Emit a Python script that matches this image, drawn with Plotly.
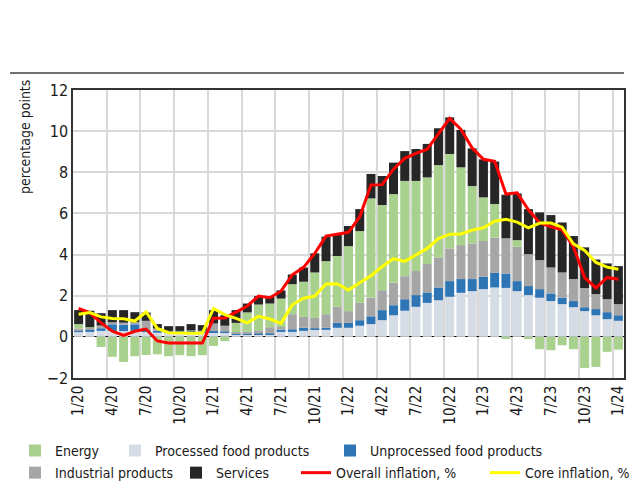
import plotly.graph_objects as go

# monthly contributions, 1/20 .. 1/24 (percentage points)
months = [f"{m}/{y}" for y in range(20, 25) for m in range(1, 13)][:49]
tick_labels = ["1/20", "4/20", "7/20", "10/20", "1/21", "4/21", "7/21", "10/21", "1/22",
               "4/22", "7/22", "10/22", "1/23", "4/23", "7/23", "10/23", "1/24"]

processed_food = [0.23, 0.24, 0.29, 0.29, 0.28, 0.29, 0.23, 0.20, 0.21, 0.21, 0.21, 0.20,
                  0.20, 0.20, 0.13, 0.13, 0.13, 0.13, 0.24, 0.24, 0.29, 0.34, 0.34, 0.44,
                  0.44, 0.54, 0.62, 0.81, 1.05, 1.27, 1.46, 1.65, 1.78, 1.95, 2.14, 2.22,
                  2.32, 2.40, 2.38, 2.22, 2.03, 1.90, 1.74, 1.59, 1.44, 1.25, 1.05, 0.86, 0.78]
unprocessed_food = [0.10, 0.13, 0.13, 0.32, 0.31, 0.32, 0.10, 0.10, 0.08, 0.08, 0.08, 0.08,
                    0.08, 0.05, 0.05, 0.03, 0.03, 0.03, 0.11, 0.13, 0.15, 0.07, 0.10, 0.24,
                    0.24, 0.27, 0.38, 0.49, 0.49, 0.56, 0.57, 0.51, 0.62, 0.76, 0.67, 0.59,
                    0.60, 0.71, 0.70, 0.49, 0.44, 0.42, 0.37, 0.32, 0.30, 0.19, 0.30, 0.34, 0.27]
industrial = [0.08, 0.08, 0.13, 0.10, 0.10, 0.11, 0.45, 0.11, 0.00, 0.00, 0.03, 0.02,
              0.37, 0.29, 0.05, 0.08, 0.16, 0.31, 0.13, 0.73, 0.53, 0.51, 0.66, 0.78,
              0.57, 0.84, 0.91, 0.97, 1.09, 1.12, 1.17, 1.38, 1.46, 1.59, 1.65, 1.73,
              1.74, 1.71, 1.71, 1.67, 1.55, 1.41, 1.26, 1.22, 1.07, 0.93, 0.73, 0.63, 0.54]
energy = [0.21, 0.02, -0.49, -0.97, -1.22, -0.94, -0.88, -0.85, -0.94, -0.89, -0.94, -0.89,
          -0.44, -0.21, 0.45, 0.95, 1.25, 1.15, 1.38, 1.46, 1.71, 2.21, 2.58, 2.47,
          3.16, 3.49, 4.82, 4.14, 4.31, 4.63, 4.38, 4.21, 4.49, 4.59, 3.78, 2.79,
          2.12, 1.64, -0.10, 0.32, -0.10, -0.60, -0.65, -0.41, -0.60, -1.51, -1.46, -0.73, -0.62]
services = [0.68, 0.80, 0.60, 0.59, 0.61, 0.48, 0.40, 0.21, 0.23, 0.23, 0.30, 0.27,
            0.65, 0.51, 0.62, 0.43, 0.41, 0.32, 0.40, 0.47, 0.69, 0.93, 1.19, 1.02,
            0.98, 1.07, 1.19, 1.41, 1.53, 1.45, 1.55, 1.63, 1.79, 1.78, 1.82, 1.83,
            1.85, 2.06, 2.12, 2.27, 2.19, 2.32, 2.55, 2.43, 2.09, 1.98, 1.68, 1.74, 1.85]
overall = [1.38, 1.17, 0.68, 0.28, 0.07, 0.27, 0.38, -0.20, -0.30, -0.30, -0.30, -0.30,
           0.90, 0.92, 1.20, 1.50, 1.98, 1.90, 2.22, 3.02, 3.38, 4.06, 4.90, 5.00,
           5.08, 5.84, 7.38, 7.40, 8.15, 8.68, 8.92, 9.12, 9.88, 10.62, 10.08, 9.18,
           8.63, 8.53, 6.94, 7.00, 6.18, 5.55, 5.35, 5.20, 4.38, 2.88, 2.38, 2.89, 2.80]
core = [1.10, 1.18, 0.97, 0.89, 0.88, 0.77, 1.21, 0.41, 0.20, 0.18, 0.18, 0.18,
        1.38, 1.08, 0.90, 0.68, 1.00, 0.87, 0.66, 1.56, 1.88, 1.98, 2.57, 2.58,
        2.28, 2.63, 2.97, 3.42, 3.80, 3.67, 4.00, 4.30, 4.78, 4.99, 5.00, 5.19,
        5.30, 5.62, 5.72, 5.58, 5.30, 5.53, 5.53, 5.33, 4.52, 4.20, 3.62, 3.39, 3.29]

FONT = "Liberation Sans Narrow, DejaVu Sans Condensed, Arial Narrow, sans-serif"
x = list(range(len(months)))

fig = go.Figure()
bars = [
    ("Processed food products", processed_food, "#d6dce5", "legend2"),
    ("Unprocessed food products", unprocessed_food, "#2e75b6", "legend3"),
    ("Industrial products", industrial, "#a6a6a6", "legend4"),
    ("Energy", energy, "#a9d18e", "legend"),
    ("Services", services, "#262626", "legend5"),
]
for name, vals, col, lg in bars:
    fig.add_trace(go.Bar(x=x, y=vals, name=name, marker_color=col, marker_line_width=0,
                         legend=lg, customdata=months,
                         hovertemplate="%{customdata}: %{y}<extra>" + name + "</extra>"))
fig.add_trace(go.Scatter(x=x, y=overall, name="Overall inflation, %", mode="lines",
                         line=dict(color="#ff0000", width=3), legend="legend6"))
fig.add_trace(go.Scatter(x=x, y=core, name="Core inflation, %", mode="lines",
                         line=dict(color="#ffff00", width=3), legend="legend7"))

# one legend per entry so the two rows line up like the original
lg_font = dict(family=FONT, size=14, color="#1a1a1a")
def _lg(px, row):
    return dict(x=(px - 73) / 551, y=-0.253 if row == 1 else -0.330, xanchor="left",
                yanchor="middle", orientation="h", font=lg_font, bgcolor="rgba(0,0,0,0)",
                borderwidth=0)

# the page body adds an 8px offset, so the figure is 8px smaller on each side
fig.update_layout(
    width=630,
    height=482,
    margin=dict(l=65, r=14, t=82, b=112, autoexpand=False),
    showlegend=True,
    barmode="relative",
    bargap=0.2,
    plot_bgcolor="white",
    paper_bgcolor="white",
    font=dict(family=FONT, size=15, color="#1a1a1a"),
    legend=_lg(15, 1),
    legend2=_lg(115, 1),
    legend3=_lg(330, 1),
    legend4=_lg(15, 2),
    legend5=_lg(176, 2),
    legend6=_lg(296, 2),
    legend7=_lg(485, 2),
    xaxis=dict(
        range=[-0.5, len(x) - 0.5],
        tickvals=list(range(0, len(x), 3)),
        ticktext=tick_labels,
        tickangle=-90,
        tickfont=dict(size=15),
        showgrid=False,
        ticks="",
        showline=True,
        mirror=True,
        linecolor="#333333",
        linewidth=1.5,
        minor=dict(tick0=-0.5, dtick=3, showgrid=True, gridcolor="#d9d9d9", gridwidth=1.5),
    ),
    yaxis=dict(
        range=[-2, 12],
        dtick=2,
        tickfont=dict(size=16),
        showgrid=True,
        gridcolor="#d9d9d9",
        gridwidth=1.5,
        zeroline=True,
        zerolinecolor="#000000",
        zerolinewidth=1.2,
        showline=True,
        mirror=True,
        linecolor="#333333",
        linewidth=1.5,
        ticks="",
    ),
    shapes=[dict(type="line", xref="paper", yref="paper", x0=(10 - 73) / 551, x1=1.0,
                 y0=(378 - 73) / 288, y1=(378 - 73) / 288,
                 line=dict(color="#404040", width=1.5))],
    annotations=[dict(text="percentage points", xref="paper", yref="paper",
                      x=(25 - 73) / 551, y=(378 - 137) / 288, textangle=-90,
                      xanchor="center", yanchor="middle",
                      showarrow=False, font=dict(size=14))],
)

fig.write_html("out.html")
